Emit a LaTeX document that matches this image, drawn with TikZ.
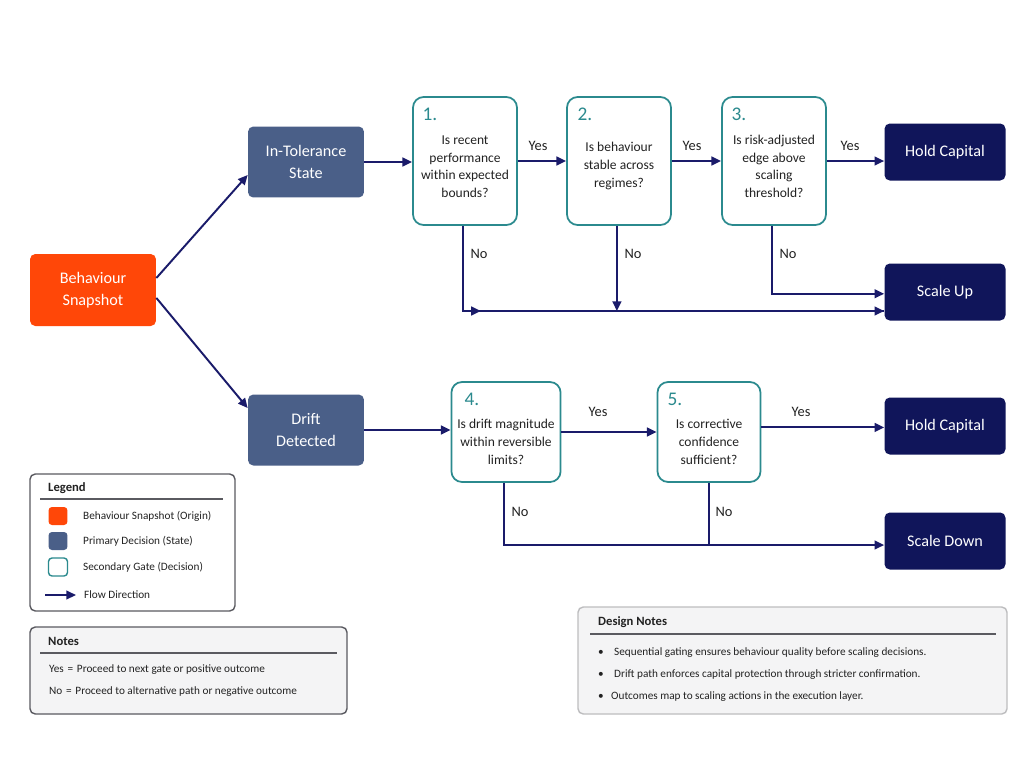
\documentclass[tikz,border=0pt]{standalone}
\usepackage{fontspec}
\setmainfont{Carlito}
\usetikzlibrary{arrows.meta,positioning}

\definecolor{snaporange}{HTML}{FF4708}
\definecolor{stateblue}{HTML}{4A5F88}
\definecolor{gateteal}{HTML}{2B8A8E}
\definecolor{outnavy}{HTML}{10155A}
\definecolor{flowblue}{HTML}{1A1B6A}
\definecolor{textdark}{HTML}{222222}
\definecolor{panelgray}{HTML}{5A5A60}
\definecolor{panelfill}{HTML}{F4F4F5}

\tikzset{
  flow/.style={draw=flowblue, line width=1.1pt, -{Triangle[length=5.5pt,width=5pt]}},
  flowline/.style={draw=flowblue, line width=1.1pt},
  boxtext/.style={align=center, text=white, font=\fontsize{9.2}{12.5}\selectfont},
  origin/.style={rectangle, rounded corners=3pt, fill=snaporange, minimum width=2.52cm, minimum height=1.44cm, boxtext},
  state/.style={rectangle, rounded corners=3pt, fill=stateblue, minimum width=2.32cm, minimum height=1.42cm, boxtext},
  outcome/.style={rectangle, rounded corners=3pt, fill=outnavy, minimum width=2.42cm, minimum height=1.14cm, boxtext},
  gate/.style={rectangle, rounded corners=6pt, draw=gateteal, line width=1pt, fill=white, minimum width=2.08cm, minimum height=2.56cm, align=center, text=textdark, font=\fontsize{7.7}{10.2}\selectfont},
  gatenum/.style={text=gateteal, font=\fontsize{11}{12}\selectfont},
  lbl/.style={text=textdark, font=\fontsize{8.2}{10}\selectfont},
  panel/.style={draw=panelgray, line width=0.8pt, rounded corners=3pt},
  paneltitle/.style={anchor=west, text=textdark, font=\bfseries\fontsize{7.2}{9}\selectfont},
  paneltext/.style={anchor=west, text=textdark, font=\fontsize{6.4}{8}\selectfont},
  keybox/.style={rectangle, rounded corners=2pt, minimum width=0.38cm, minimum height=0.36cm}
}

\begin{document}
\begin{tikzpicture}[x=0.02cm, y=-0.02cm]
  \useasboundingbox[fill=white] (0,0) rectangle (1024,768);

  % main boxes
  \node[origin] (snap) at (93,290) {Behaviour\\Snapshot};
  \node[state] (tol) at (306,162) {In-Tolerance\\State};
  \node[state] (drift) at (306,430) {Drift\\Detected};

  % gates
  \node[gate] (g1) at (465,161) {\rule{0pt}{11.4pt}Is recent\\performance\\within expected\\bounds?};
  \node[gate] (g2) at (619,161) {\rule{0pt}{11.4pt}Is behaviour\\stable across\\regimes?};
  \node[gate] (g3) at (774,161) {\rule{0pt}{11.4pt}Is risk-adjusted\\edge above\\scaling\\threshold?};
  \node[gate, minimum width=2.06cm, minimum height=2cm] (g4) at (506,432) {\rule{0pt}{16.5pt}Is drift magnitude\\within reversible\\limits?};
  \node[gate, minimum width=2.06cm, minimum height=2cm] (g5) at (709,432) {\rule{0pt}{16.5pt}Is corrective\\confidence\\sufficient?};
  \node[gatenum] (n1) at (430,114) {1.};
  \node[gatenum] (n2) at (585,114) {2.};
  \node[gatenum] (n3) at (739,114) {3.};
  \node[gatenum] (n4) at (472,399) {4.};
  \node[gatenum] (n5) at (675,399) {5.};

  % outcomes
  \node[outcome] (hold1) at (945,152) {Hold Capital};
  \node[outcome] (up) at (945,292) {Scale Up};
  \node[outcome] (hold2) at (945,426) {Hold Capital};
  \node[outcome] (down) at (945,541) {Scale Down};

  % flow
  \draw[flow] ([yshift=6.8pt]snap.east) -- ([yshift=-7.4pt]tol.west);
  \draw[flow] ([yshift=-4.5pt]snap.east) -- ([yshift=12.5pt]drift.west);
  \draw[flow] (tol.east) -- (g1.west |- tol.east);
  \draw[flow] (g1.east) -- (g2.west);
  \draw[flow] (g2.east) -- (g3.west);
  \draw[flow] (g3.east) -- (g3.east -| hold1.west);
  \draw[flow] (drift.east) -- (g4.west |- drift.east);
  \draw[flow] (g4.east) -- (g5.west);
  \draw[flow] ([yshift=2.6pt]g5.east) -- ([yshift=2.6pt]g5.east -| hold2.west);

  \coordinate (upbus) at (0,311);
  \coordinate (downbus) at (0,545);
  \draw[flow] ([xshift=-1.2pt]g1.south) |- ([xshift=9pt]g1.south |- upbus);
  \draw[flowline] ([xshift=-1.2pt]g1.south |- upbus) -- (upbus -| up.west);
  \draw[flow] (upbus -| g1.east) -- (upbus -| up.west);
  \draw[flow] ([xshift=-1.2pt]g2.south) -- ([xshift=-1.2pt]g2.south |- upbus);
  \draw[flow] ([xshift=-1.2pt]g3.south) |- ([yshift=-1pt]up.west);
  \draw[flow] ([xshift=-1.2pt]g4.south) |- (downbus -| down.west);
  \draw[flowline] (g5.south) -- (g5.south |- downbus);

  % labels
  \node[lbl] (y1) at (538,146) {Yes};
  \node[lbl] (y2) at (692,146) {Yes};
  \node[lbl] (y3) at (850,146) {Yes};
  \node[lbl] (y4) at (598,412) {Yes};
  \node[lbl] (y5) at (801,412) {Yes};
  \node[lbl] (no1) at (479,254) {No};
  \node[lbl] (no2) at (633,254) {No};
  \node[lbl] (no3) at (788,254) {No};
  \node[lbl] (no4) at (520,512) {No};
  \node[lbl] (no5) at (724,512) {No};

  % legend
  \draw[panel, fill=white] (30,474) rectangle (235,611);
  \node[paneltitle] (legtitle) at (42,488) {Legend};
  \draw[panelgray, line width=0.7pt] (40,499) -- (223,499);
  \node[keybox, fill=snaporange] (keyorigin) at (58,516) {};
  \node[keybox, fill=stateblue] (keystate) at (58,541) {};
  \node[keybox, draw=gateteal, line width=0.8pt, fill=white] (keygate) at (58,567) {};
  \node[paneltext] (keyorigintext) at (77,516) {Behaviour Snapshot (Origin)};
  \node[paneltext] (keystatetext) at (77,541) {Primary Decision (State)};
  \node[paneltext] (keygatetext) at (77,567) {Secondary Gate (Decision)};
  \coordinate (keyarrowA) at (45,595);
  \coordinate (keyarrowB) at (76,595);
  \draw[flow, line width=0.8pt] (keyarrowA) -- (keyarrowB);
  \node[paneltext] (keyflowtext) at (78,595) {Flow Direction};

  % notes
  \draw[panel, fill=panelfill] (30,627) rectangle (347,714);
  \node[paneltitle] (notetitle) at (42,641) {Notes};
  \draw[panelgray, line width=0.7pt] (40,653) -- (337,653);
  \node[paneltext] (noteyes) at (43,670) {Yes\,\,=\,\,Proceed to next gate or positive outcome};
  \node[paneltext] (noteno) at (43,692) {No\,\,=\,\,Proceed to alternative path or negative outcome};

  % design notes
  \draw[panel, draw=panelgray!40, fill=panelfill] (578,607) rectangle (1007,714);
  \node[paneltitle] (dntitle) at (592,622) {Design Notes};
  \draw[panelgray, line width=0.7pt] (590,634) -- (996,634);
  \node[paneltext] (dnb1) at (592,653) {\textbullet};
  \node[paneltext] (dnb2) at (592,675) {\textbullet};
  \node[paneltext] (dnb3) at (592,697) {\textbullet};
  \node[paneltext] (dn1) at (608,653) {Sequential gating ensures behaviour quality before scaling decisions.};
  \node[paneltext] (dn2) at (608,675) {Drift path enforces capital protection through stricter confirmation.};
  \node[paneltext] (dn3) at (605,697) {Outcomes map to scaling actions in the execution layer.};
\end{tikzpicture}
\end{document}
